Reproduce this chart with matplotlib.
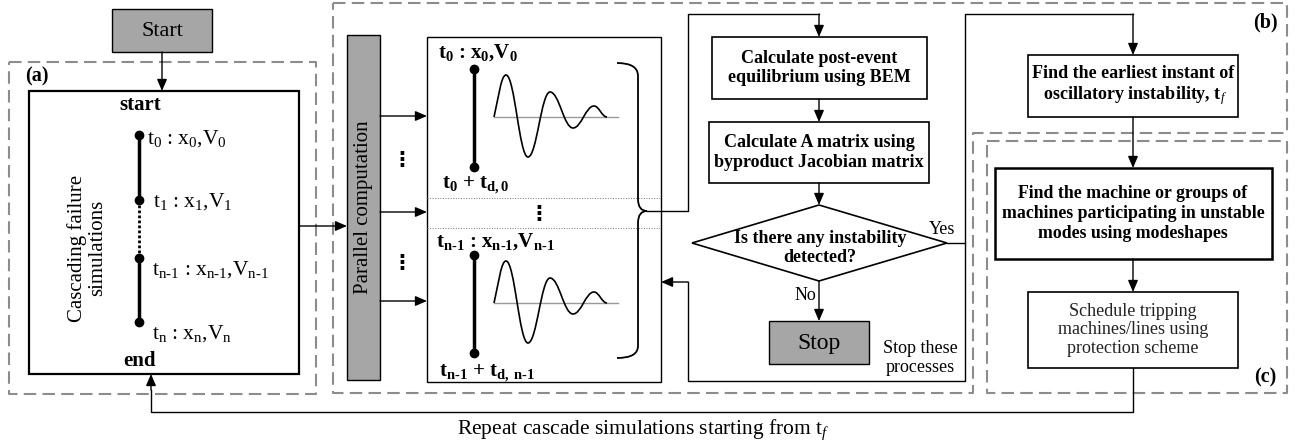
import matplotlib.pyplot as plt
from matplotlib.patches import Rectangle, Polygon, PathPatch
from matplotlib.path import Path

plt.rcParams['font.family'] = ['Liberation Serif', 'DejaVu Serif']
plt.rcParams['mathtext.fontset'] = 'custom'
plt.rcParams['mathtext.rm'] = 'Liberation Serif'
plt.rcParams['mathtext.it'] = 'Liberation Serif:italic'
plt.rcParams['mathtext.bf'] = 'Liberation Serif:bold'
plt.rcParams['mathtext.default'] = 'regular'

# labels of the flowchart
start_label = 'Start'
stop_label = 'Stop'
panel_labels = ['(a)', '(b)', '(c)']
cascade_title = 'Cascading failure\nsimulations'
cascade_steps = [r'$t_0$ : $x_0$,$V_0$', r'$t_1$ : $x_1$,$V_1$',
                 r'$t_{n\text{-}1}$ : $x_{n\text{-}1}$,$V_{n\text{-}1}$', r'$t_n$ : $x_n$,$V_n$']
parallel_label = 'Parallel computation'
window_start = [r'$t_0$ : $x_0$,$V_0$', r'$t_{n\text{-}1}$ : $x_{n\text{-}1}$,$V_{n\text{-}1}$']
window_end = [r'$t_0$ + $t_{d,0}$', r'$t_{n\text{-}1}$ + $t_{d,\ n\text{-}1}$']
step_labels = ['Calculate post-event\nequilibrium using BEM',
               'Calculate A matrix using\nbyproduct Jacobian matrix',
               'Is there any instability\ndetected?']
right_labels = ['Find the earliest instant of\n oscillatory instability, $t_{\\mathit{f}}$',
                'Find the machine or groups of\nmachines participating in unstable\nmodes using modeshapes',
                'Schedule tripping\nmachines/lines using\nprotection scheme']
stop_note = 'Stop these\nprocesses'
repeat_note = r'Repeat cascade simulations starting from $t_{\mathit{f}}$'
# damped oscillation sketch: extrema (offset along time, deflection from baseline)
wave_dx = [0, 12, 34, 56, 79, 100, 113]
wave_dy = [0, -42, 40, -25, 11, -11, 0]

GRAY = '#a6a6a6'
DASH = '#8c8c8c'

fig = plt.figure(figsize=(12.98, 4.47), dpi=100)
ax = fig.add_axes([0, 0, 1, 1])
ax.set_xlim(0, 1298)
ax.set_ylim(447, 0)
ax.axis('off')


def box(x0, y0, x1, y1, fc='white', lw=1.2):
    ax.add_patch(Rectangle((x0, y0), x1 - x0, y1 - y0, fc=fc, ec='k', lw=lw, zorder=2))


def arrow(p0, p1):
    ax.annotate('', xy=p1, xytext=p0,
                arrowprops=dict(arrowstyle='-|>,head_length=0.7,head_width=0.3', color='k',
                                lw=1.0, shrinkA=0, shrinkB=0, mutation_scale=10), zorder=3)


def line(pts, **kw):
    xs = [p[0] for p in pts]
    ys = [p[1] for p in pts]
    ax.plot(xs, ys, color=kw.pop('color', 'k'), lw=kw.pop('lw', 1.0),
            zorder=kw.pop('zorder', 3), **kw)


def dashed(pts):
    line(pts, color=DASH, lw=1.5, linestyle=(0, (6, 3)), zorder=1)


def vdots(x, y):
    ax.text(x, y, '⋮', ha='center', va='center', fontsize=15, fontweight='bold',
            family=['DejaVu Sans'], zorder=4)


def wave(x0, y0):
    verts = [(x0 + wave_dx[0], y0 + wave_dy[0])]
    codes = [Path.MOVETO]
    for i in range(1, len(wave_dx)):
        xa, ya = x0 + wave_dx[i - 1], y0 + wave_dy[i - 1]
        xb, yb = x0 + wave_dx[i], y0 + wave_dy[i]
        d = (xb - xa) * 0.4
        verts += [(xa + d, ya if i > 1 else ya + (yb - ya) * 0.5), (xb - d, yb), (xb, yb)]
        codes += [Path.CURVE4] * 3
    line([(x0, y0), (x0 + 124, y0)], color='#999999', lw=1.0)
    ax.add_patch(PathPatch(Path(verts, codes), fc='none', ec='k', lw=1.2, zorder=4))


# ---------------- (a) cascading failure simulations
box(112, 9, 212, 52, fc=GRAY, lw=1.0)
ax.text(162, 31, start_label, ha='center', va='center', fontsize=16)
arrow((162, 52), (162, 91))
dashed([(9, 62), (316, 62), (316, 394), (9, 394), (9, 62)])
ax.text(37, 76, panel_labels[0], ha='center', va='center', fontsize=14.5, fontweight='bold')
box(29, 91, 299, 374, lw=1.6)
ax.text(140, 105, 'start', ha='center', va='center', fontsize=15, fontweight='bold')
ax.text(140, 361, 'end', ha='center', va='center', fontsize=15, fontweight='bold')
ax.text(87, 248, cascade_title, ha='center', va='center', rotation=90, fontsize=15,
        multialignment='center', linespacing=1.05)
dot_y = [135, 200, 258, 322]
line([(139, dot_y[0]), (139, dot_y[1])], lw=2.5)
line([(139, dot_y[1]), (139, dot_y[2])], lw=2.0, linestyle=(0, (1, 0.8)))
line([(139, dot_y[2]), (139, dot_y[3])], lw=2.5)
ax.plot([139] * 4, dot_y, 'o', color='k', ms=6, zorder=4)
step_x = [147, 153, 152, 152]
step_y = [139, 202, 270, 334]
for s, x, y in zip(cascade_steps, step_x, step_y):
    ax.text(x, y, s, ha='left', va='center', fontsize=15.5)
arrow((299, 226), (347, 226))

# ---------------- (b) oscillatory instability detection
dashed([(333, 3), (1287, 3), (1287, 133), (973, 133), (973, 393), (333, 393), (333, 3)])
ax.text(1265, 22, panel_labels[1], ha='center', va='center', fontsize=14.5, fontweight='bold')
box(347, 35, 380, 380, fc=GRAY, lw=1.0)
ax.text(363.5, 207, parallel_label, ha='center', va='center', rotation=90, fontsize=15)
for y in [116, 212, 301]:
    arrow((380, y), (427, y))
for y in [159, 262]:
    vdots(402, y)
box(427, 37, 661, 382, lw=1.0)
line([(427, 198), (661, 198)], color='#777777', lw=0.7, linestyle=':')
line([(427, 228), (661, 228)], color='#777777', lw=0.7, linestyle=':')
vdots(539, 213)
for k, off in enumerate([0, 186]):
    ax.text(438 - 2 * k, 53 + off + 3 * k, window_start[k], ha='left', va='center',
            fontsize=15, fontweight='bold')
    ax.text(442 - 3 * k, 185 + off + 2 * k, window_end[k], ha='left', va='center',
            fontsize=15, fontweight='bold')
    line([(474, 69 + off), (474, 167 + off)], lw=2.5)
    ax.plot([474, 474], [69 + off, 167 + off], 'o', color='k', ms=6, zorder=4)
    wave(494, 117 + off)

# curly brace gathering the windows
bv = [(617, 63), (638, 63), (638, 76), (638, 199), (638, 211), (647, 211),
      (638, 211), (638, 223), (638, 346), (638, 358), (617, 358)]
bc = [Path.MOVETO, Path.CURVE3, Path.CURVE3, Path.LINETO, Path.CURVE3, Path.CURVE3,
      Path.CURVE3, Path.CURVE3, Path.LINETO, Path.CURVE3, Path.CURVE3]
ax.add_patch(PathPatch(Path(bv, bc), fc='none', ec='k', lw=1.3, zorder=4))
line([(647, 211), (688, 211), (688, 14), (819, 14)])
arrow((819, 14), (819, 37))

box(712, 37, 927, 99)
ax.text(819.5, 68, step_labels[0], ha='center', va='center', fontsize=13,
        fontweight='bold', linespacing=1.2)
arrow((819, 99), (819, 122))
box(709, 122, 929, 183)
ax.text(819, 152.5, step_labels[1], ha='center', va='center', fontsize=13,
        fontweight='bold', linespacing=1.2)
arrow((819, 183), (819, 205))
ax.add_patch(Polygon([(819, 205), (947, 243), (819, 281), (692, 243)], closed=True,
                     fc='white', ec='k', lw=1.2, zorder=2))
ax.text(820, 248, step_labels[2], ha='center', va='center', fontsize=13,
        fontweight='bold', linespacing=1.2, zorder=4)
ax.text(942, 229, 'Yes', ha='center', va='center', fontsize=13)
ax.text(805, 296, 'No', ha='center', va='center', fontsize=13)
arrow((819, 281), (819, 321))
box(769, 321, 869, 364, fc=GRAY, lw=1.0)
ax.text(819, 343, stop_label, ha='center', va='center', fontsize=17)
ax.text(920, 358, stop_note, ha='center', va='center', fontsize=13, linespacing=1.15)
line([(947, 243), (965, 243)])
line([(1133, 14), (965, 14), (965, 381), (688, 381), (688, 282)])
arrow((688, 282), (661, 282))
arrow((1133, 14), (1133, 55))

# ---------------- (c) protection
dashed([(987, 141), (1287, 141), (1287, 393), (987, 393), (987, 141)])
ax.text(1265, 377, panel_labels[2], ha='center', va='center', fontsize=14.5, fontweight='bold')
box(1028, 55, 1238, 117)
ax.text(1133, 86, right_labels[0], ha='center', va='center', fontsize=13,
        fontweight='bold', linespacing=1.2)
arrow((1133, 117), (1133, 168))
box(995, 168, 1272, 259, lw=1.8)
ax.text(1133, 213.5, right_labels[1], ha='center', va='center', fontsize=12.8,
        fontweight='bold', linespacing=1.2)
arrow((1133, 259), (1133, 292))
box(1028, 292, 1238, 368)
ax.text(1133, 330, right_labels[2], ha='center', va='center', fontsize=13,
        linespacing=1.15, color='#222222')
line([(1133, 368), (1133, 412), (151, 412), (151, 390)])
arrow((151, 390), (151, 374))
ax.text(643, 430, repeat_note, ha='center', va='center', fontsize=15.5)

fig.savefig('out.png', dpi=100)
